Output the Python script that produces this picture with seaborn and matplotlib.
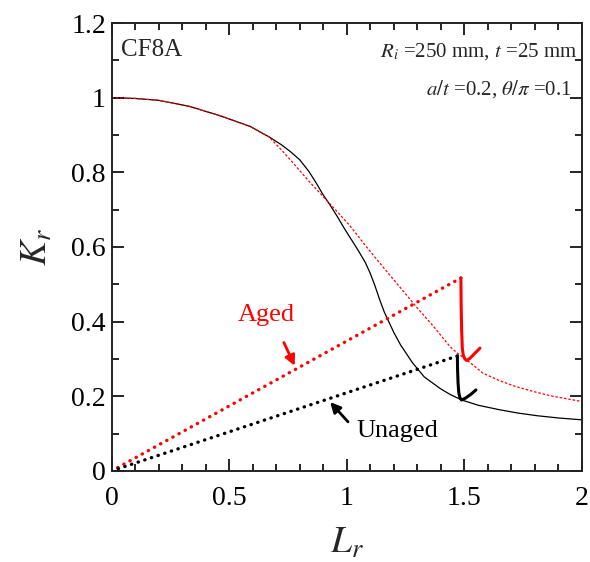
import numpy as np
import matplotlib
matplotlib.use('Agg')
import matplotlib.pyplot as plt
from matplotlib.ticker import MultipleLocator, FuncFormatter
import seaborn as sns

# FAD curves
unaged_lr = [0, 0.1, 0.2, 0.33, 0.46, 0.59, 0.67, 0.72, 0.76, 0.8, 0.84, 0.87, 0.9, 0.93,
             0.96, 0.99, 1.02, 1.05, 1.08, 1.1, 1.12, 1.14, 1.16, 1.2, 1.23, 1.28, 1.33,
             1.4, 1.44, 1.49, 1.56, 1.65, 1.73, 1.81, 1.9, 2.0]
unaged_kr = [1.0, 0.998, 0.993, 0.977, 0.952, 0.923, 0.895, 0.875, 0.856, 0.834, 0.802,
             0.772, 0.74, 0.712, 0.682, 0.65, 0.62, 0.59, 0.558, 0.53, 0.497, 0.46,
             0.426, 0.372, 0.337, 0.29, 0.252, 0.22, 0.205, 0.19, 0.176, 0.164, 0.155,
             0.148, 0.142, 0.137]

aged_lr = [0, 0.1, 0.2, 0.33, 0.46, 0.59, 0.67, 0.72, 0.76, 0.8, 0.84, 0.93, 1.01,
           1.085, 1.15, 1.23, 1.3, 1.37, 1.44, 1.47, 1.51, 1.58, 1.65, 1.72, 1.8,
           1.87, 1.94, 2.0]
aged_kr = [1.0, 0.998, 0.993, 0.977, 0.952, 0.923, 0.895, 0.862, 0.834, 0.805, 0.776,
           0.715, 0.66, 0.6, 0.55, 0.49, 0.437, 0.387, 0.333, 0.316, 0.298, 0.262,
           0.242, 0.226, 0.212, 0.201, 0.193, 0.186]

# loading lines from origin
aged_load_lr = [0, 1.486]
aged_load_kr = [0, 0.517]
unaged_load_lr = [0, 1.471]
unaged_load_kr = [0, 0.308]

# hook-shaped paths at the end of the loading lines
aged_hook_lr = [1.486, 1.487, 1.489, 1.492, 1.496, 1.503, 1.511, 1.525, 1.545, 1.567]
aged_hook_kr = [0.517, 0.45, 0.38, 0.33, 0.31, 0.3, 0.296, 0.302, 0.315, 0.329]
unaged_hook_lr = [1.471, 1.472, 1.474, 1.477, 1.482, 1.489, 1.505, 1.528, 1.55]
unaged_hook_kr = [0.308, 0.27, 0.235, 0.21, 0.196, 0.19, 0.195, 0.205, 0.217]

sns.set_style('ticks')
plt.rcParams['font.family'] = ['Liberation Serif', 'DejaVu Serif']
plt.rcParams['mathtext.fontset'] = 'stix'

fig = plt.figure(figsize=(5.9, 5.62), dpi=100)
ax = fig.add_axes([0.189, 0.162, 0.797, 0.797])

sns.lineplot(x=unaged_lr, y=unaged_kr, ax=ax, color='black', lw=0.9,
             sort=False, estimator=None)
sns.lineplot(x=aged_lr, y=aged_kr, ax=ax, color='red', lw=0.9,
             linestyle=(0, (2, 1.5)), sort=False, estimator=None)

sns.lineplot(x=aged_load_lr, y=aged_load_kr, ax=ax, color='red', lw=2.4,
             linestyle=(0, (0.1, 2.0)), dash_capstyle='round', sort=False, estimator=None)
sns.lineplot(x=unaged_load_lr, y=unaged_load_kr, ax=ax, color='black', lw=2.4,
             linestyle=(0, (0.1, 2.0)), dash_capstyle='round', sort=False, estimator=None)

sns.lineplot(x=aged_hook_lr, y=aged_hook_kr, ax=ax, color='red', lw=2.2,
             sort=False, estimator=None, solid_capstyle='round')
sns.lineplot(x=unaged_hook_lr, y=unaged_hook_kr, ax=ax, color='black', lw=2.2,
             sort=False, estimator=None, solid_capstyle='round')

ax.set_xlim(0, 2)
ax.set_ylim(0, 1.2)
ax.xaxis.set_major_locator(MultipleLocator(0.5))
ax.xaxis.set_minor_locator(MultipleLocator(0.1))
ax.yaxis.set_major_locator(MultipleLocator(0.2))
ax.yaxis.set_minor_locator(MultipleLocator(0.1))
fmt = FuncFormatter(lambda v, p: f'{v:g}')
ax.xaxis.set_major_formatter(fmt)
ax.yaxis.set_major_formatter(fmt)
ax.tick_params(which='both', direction='in', top=True, right=True, width=1.2,
               labelsize=20, colors='black')
ax.tick_params(which='major', length=8.5)
ax.tick_params(which='minor', length=5)
ax.tick_params(axis='x', which='major', pad=11)
ax.tick_params(axis='y', which='major', pad=4)
for s in ax.spines.values():
    s.set_linewidth(1.4)
    s.set_color('#222222')

ax.set_xlabel('$L_r$', fontsize=27, labelpad=11)
ax.set_ylabel('$K_r$', fontsize=27, labelpad=12)

ax.text(0.042, 1.111, 'CF8A', fontsize=18, ha='left', va='baseline')
ax.text(1.983, 1.11, '$R_i$ =250 mm, $t$ =25 mm', fontsize=15, ha='right', va='baseline')
ax.text(1.958, 1.008, r'$a/t$ =0.2, $\theta/\pi$ =0.1', fontsize=15, ha='right', va='baseline')

ax.text(0.66, 0.403, 'Aged', fontsize=19, color='red', ha='center', va='baseline')
ax.annotate('', xy=(0.784, 0.275), xytext=(0.728, 0.351),
            arrowprops=dict(arrowstyle='-|>', color='red', lw=2, mutation_scale=15))
ax.text(1.043, 0.092, 'Unaged', fontsize=19, color='black', ha='left', va='baseline')
ax.annotate('', xy=(0.922, 0.19), xytext=(1.014, 0.126),
            arrowprops=dict(arrowstyle='-|>', color='black', lw=2, mutation_scale=15))

fig.savefig('out.png', dpi=100)
